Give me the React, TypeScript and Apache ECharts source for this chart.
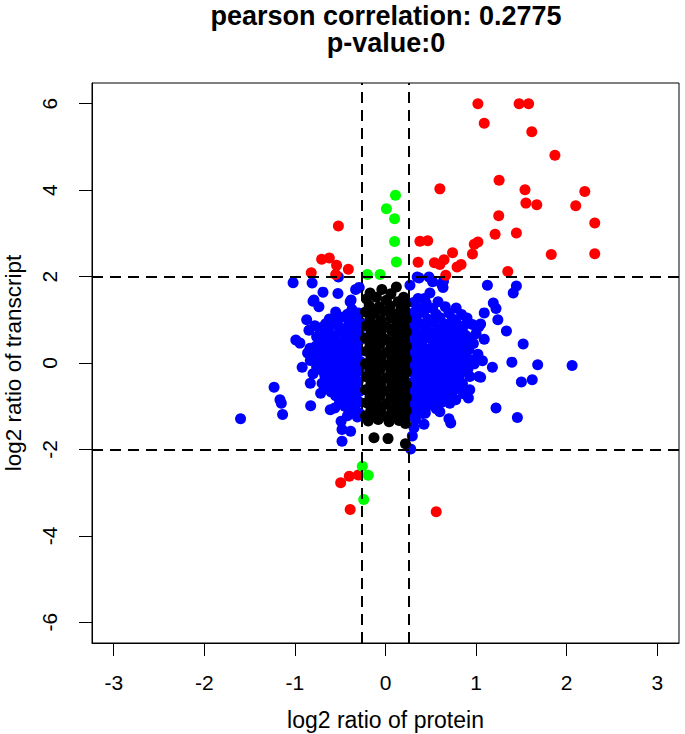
import React, { useEffect, useRef } from 'react';
import * as echarts from 'echarts';

const xTicks = [-3, -2, -1, 0, 1, 2, 3];
const yTicks = [-6, -4, -2, 0, 2, 4, 6];
const xCut = [-0.263, 0.263];
const yCut = [-2, 2];
const titleLines = ['pearson correlation: 0.2775', 'p-value:0'];

const redPoints = [
  [1.02, 6.0], [1.475, 6.0], [1.58, 6.0], [1.09, 5.55], [1.615, 5.35], [1.87, 4.81], [1.254, 4.23],
  [0.6, 4.03], [1.54, 4.01], [2.2, 3.97], [1.55, 3.7], [1.67, 3.66], [2.1, 3.64], [1.25, 3.41],
  [2.31, 3.24], [-0.52, 3.17], [1.21, 2.98], [1.445, 3.01], [0.38, 2.82], [0.466, 2.83], [1.02, 2.8],
  [0.98, 2.75], [0.74, 2.55], [0.96, 2.52], [1.83, 2.51], [2.31, 2.53], [-0.705, 2.4], [-0.62, 2.43],
  [-0.54, 2.26], [-0.41, 2.17], [-0.82, 2.09], [0.36, 2.33], [0.54, 2.32], [0.646, 2.39], [0.6, 2.28],
  [0.79, 2.22], [0.834, 2.28], [0.665, 2.03], [1.35, 2.12], [-0.55, 2.05],
  [-0.495, -2.77], [-0.4, -2.62], [-0.3, -2.59], [-0.39, -3.39], [0.56, -3.44],
];

const greenPoints = [
  [0.11, 3.88], [0.01, 3.57], [0.1, 3.34], [0.1, 2.81], [0.12, 2.34], [-0.2, 2.05], [-0.06, 2.05],
  [-0.256, -2.39], [-0.19, -2.6], [-0.24, -3.16],
];

const blueSparse = [
  [-1.02, 1.86], [-0.81, 1.85], [-0.52, 1.99], [-0.69, 1.64], [-0.525, 1.61], [-0.29, 1.75], [-0.33, 1.7],
  [-0.8, 1.43], [-0.735, 1.3], [-0.39, 1.42], [-0.37, 1.24], [-0.87, 1.0], [-0.54, 0.93], [-0.845, 0.76],
  [-0.78, 0.86], [-0.69, 0.84], [-0.99, 0.53], [-0.945, 0.46], [-0.834, 0.34], [-0.81, 0.19], [-0.77, 0.11],
  [-0.92, -0.1], [-0.8, -0.25], [-0.83, -0.47], [-0.7, -0.47], [-1.23, -0.56], [-1.165, -0.85], [-1.15, -0.93],
  [-1.136, -1.19], [-1.6, -1.29], [-0.826, -0.99], [-0.61, -1.08], [-0.716, -0.7], [-0.51, -0.93],
  [-0.4, -1.12], [-0.49, -1.35], [-0.48, -1.54], [-0.385, -1.58], [-0.48, -1.81], [-0.29, -1.16],
  [-0.79, 1.46], [-0.38, 1.46],
  [1.125, 1.8], [1.445, 1.78], [1.41, 1.62], [0.62, 1.82], [0.635, 1.75], [0.48, 1.99], [0.52, 1.88],
  [0.35, 1.99], [0.49, 1.62], [0.36, 1.49], [0.43, 1.49], [1.19, 1.39], [1.22, 1.26], [1.09, 1.16],
  [1.24, 1.0], [1.05, 0.9], [1.03, 0.84], [1.335, 0.74], [0.867, 0.87], [0.915, 0.59], [1.09, 0.55],
  [1.52, 0.44], [1.07, 0.05], [1.18, -0.1], [1.395, 0.02], [1.68, -0.04], [2.06, -0.06], [1.03, -0.31],
  [1.05, -0.33], [1.5, -0.44], [1.62, -0.39], [0.93, -0.62], [0.915, -0.81], [1.22, -1.04], [1.456, -1.26],
  [0.7, -1.29], [0.72, -1.39], [0.44, -1.16], [0.425, -1.42], [0.315, -1.5], [0.296, -1.69], [0.278, -1.99],
  [0.775, -0.85], [0.27, 1.8], [0.37, 1.97], [0.64, 1.89],
];

const blueLeftDense = [
  [-0.3, 1.16], [-0.42, 1.13], [-0.55, 1.18],
  [-0.35, 1.04], [-0.48, 1.06], [-0.62, 1.02],
  [-0.28, 0.95], [-0.4, 0.93], [-0.58, 0.97], [-0.66, 0.91],
  [-0.33, 0.83], [-0.45, 0.8], [-0.52, 0.85], [-0.63, 0.79],
  [-0.29, 0.71], [-0.38, 0.68], [-0.5, 0.72], [-0.6, 0.66], [-0.72, 0.7],
  [-0.34, 0.6], [-0.44, 0.57], [-0.56, 0.62], [-0.67, 0.58], [-0.76, 0.61],
  [-0.3, 0.48], [-0.41, 0.5], [-0.52, 0.46], [-0.63, 0.49], [-0.7, 0.45],
  [-0.36, 0.38], [-0.47, 0.36], [-0.58, 0.4], [-0.68, 0.35], [-0.77, 0.39],
  [-0.29, 0.27], [-0.4, 0.24], [-0.51, 0.28], [-0.62, 0.25], [-0.73, 0.27], [-0.86, 0.23],
  [-0.34, 0.15], [-0.45, 0.13], [-0.56, 0.17], [-0.66, 0.14], [-0.74, 0.16],
  [-0.28, 0.04], [-0.39, 0.06], [-0.5, 0.02], [-0.61, 0.05], [-0.71, 0.03], [-0.83, 0.06],
  [-0.33, -0.08], [-0.44, -0.06], [-0.55, -0.1], [-0.65, -0.07], [-0.76, -0.09],
  [-0.29, -0.18], [-0.4, -0.2], [-0.51, -0.16], [-0.6, -0.19], [-0.7, -0.17],
  [-0.35, -0.3], [-0.46, -0.28], [-0.57, -0.32], [-0.67, -0.29],
  [-0.3, -0.42], [-0.41, -0.4], [-0.52, -0.44], [-0.62, -0.41],
  [-0.34, -0.55], [-0.45, -0.53], [-0.56, -0.57], [-0.66, -0.54],
  [-0.29, -0.66], [-0.39, -0.68], [-0.5, -0.64], [-0.6, -0.67],
  [-0.33, -0.78], [-0.44, -0.8], [-0.55, -0.76],
  [-0.29, -0.9], [-0.4, -0.88], [-0.49, -0.92],
  [-0.34, -1.02], [-0.45, -1.0], [-0.56, -1.04],
  [-0.31, -1.25], [-0.42, -1.22],
];

const blueRightDense = [
  [0.31, 1.4], [0.45, 1.38], [0.58, 1.42],
  [0.35, 1.28], [0.52, 1.26], [0.66, 1.3], [0.78, 1.27],
  [0.3, 1.15], [0.42, 1.17], [0.56, 1.13], [0.7, 1.16], [0.84, 1.12],
  [0.34, 1.03], [0.47, 1.01], [0.6, 1.05], [0.74, 1.02], [0.9, 1.04],
  [0.29, 0.92], [0.4, 0.9], [0.53, 0.94], [0.65, 0.91], [0.78, 0.93], [0.96, 0.89],
  [0.33, 0.8], [0.45, 0.82], [0.58, 0.78], [0.71, 0.81], [0.83, 0.79],
  [0.3, 0.68], [0.41, 0.66], [0.52, 0.7], [0.64, 0.67], [0.76, 0.69], [0.88, 0.65], [1.0, 0.68],
  [0.35, 0.56], [0.47, 0.58], [0.59, 0.54], [0.7, 0.57], [0.82, 0.55],
  [0.29, 0.45], [0.4, 0.43], [0.53, 0.47], [0.64, 0.44], [0.76, 0.46], [0.87, 0.42], [0.97, 0.45],
  [0.34, 0.34], [0.46, 0.32], [0.57, 0.36], [0.69, 0.33], [0.8, 0.35], [0.92, 0.31],
  [0.3, 0.22], [0.41, 0.24], [0.52, 0.2], [0.63, 0.23], [0.75, 0.21], [0.86, 0.24], [1.02, 0.2],
  [0.35, 0.11], [0.47, 0.09], [0.58, 0.13], [0.7, 0.1], [0.81, 0.12], [0.93, 0.08],
  [0.29, 0.0], [0.4, 0.02], [0.52, -0.02], [0.63, 0.01], [0.74, -0.01], [0.86, 0.03], [0.98, -0.02],
  [0.34, -0.11], [0.45, -0.13], [0.57, -0.09], [0.68, -0.12], [0.8, -0.1], [0.91, -0.14],
  [0.3, -0.22], [0.41, -0.2], [0.52, -0.24], [0.64, -0.21], [0.75, -0.23], [0.87, -0.19],
  [0.35, -0.34], [0.46, -0.32], [0.58, -0.36], [0.69, -0.33], [0.81, -0.35], [0.93, -0.31],
  [0.29, -0.45], [0.4, -0.47], [0.51, -0.43], [0.62, -0.46], [0.74, -0.44], [0.85, -0.48],
  [0.34, -0.57], [0.45, -0.55], [0.56, -0.59], [0.67, -0.56], [0.79, -0.58],
  [0.3, -0.68], [0.41, -0.7], [0.52, -0.66], [0.63, -0.69], [0.74, -0.67], [0.86, -0.71],
  [0.35, -0.8], [0.46, -0.78], [0.57, -0.82], [0.68, -0.79],
  [0.29, -0.92], [0.4, -0.9], [0.51, -0.94], [0.62, -0.91], [0.71, -0.93],
  [0.34, -1.04], [0.45, -1.02], [0.56, -1.06],
  [0.3, -1.15], [0.41, -1.17], [0.6, -1.13],
  [0.33, -1.3],
];

const blackPoints = [
  [-0.17, 1.62], [-0.04, 1.7], [0.12, 1.76], [0.06, 1.6], [0.2, 1.52],
  [-0.21, 1.48], [-0.1, 1.52], [0.01, 1.45], [0.14, 1.42], [0.22, 1.36],
  [-0.18, 1.33], [-0.07, 1.3], [0.05, 1.32], [0.17, 1.25],
  [-0.22, 1.18], [-0.12, 1.15], [-0.01, 1.2], [0.1, 1.13], [0.21, 1.16],
  [-0.17, 1.02], [-0.05, 0.99], [0.06, 1.04], [0.16, 0.98], [0.23, 1.02],
  [-0.21, 0.86], [-0.1, 0.88], [0.01, 0.84], [0.12, 0.87], [0.21, 0.83],
  [-0.16, 0.72], [-0.05, 0.7], [0.07, 0.74], [0.17, 0.69], [0.23, 0.72],
  [-0.22, 0.57], [-0.11, 0.59], [0.0, 0.55], [0.11, 0.58], [0.21, 0.54],
  [-0.17, 0.42], [-0.06, 0.44], [0.06, 0.4], [0.16, 0.43], [0.23, 0.39],
  [-0.21, 0.27], [-0.1, 0.29], [0.01, 0.25], [0.12, 0.28], [0.2, 0.24],
  [-0.16, 0.12], [-0.05, 0.14], [0.07, 0.1], [0.17, 0.13], [0.23, 0.09],
  [-0.22, -0.02], [-0.11, 0.0], [0.0, -0.04], [0.11, -0.01], [0.21, -0.05],
  [-0.17, -0.17], [-0.06, -0.15], [0.06, -0.19], [0.16, -0.16], [0.23, -0.2],
  [-0.21, -0.32], [-0.1, -0.3], [0.01, -0.34], [0.12, -0.31], [0.2, -0.35],
  [-0.16, -0.47], [-0.05, -0.45], [0.07, -0.49], [0.17, -0.46], [0.23, -0.5],
  [-0.22, -0.62], [-0.11, -0.6], [0.0, -0.64], [0.11, -0.61], [0.21, -0.65],
  [-0.17, -0.77], [-0.06, -0.75], [0.06, -0.79], [0.16, -0.76], [0.23, -0.8],
  [-0.21, -0.92], [-0.1, -0.9], [0.01, -0.94], [0.12, -0.91], [0.2, -0.95],
  [-0.16, -1.07], [-0.05, -1.05], [0.07, -1.09], [0.17, -1.06], [0.23, -1.1],
  [-0.22, -1.22], [-0.11, -1.2], [0.0, -1.24], [0.11, -1.21], [0.21, -1.25],
  [-0.19, -1.34], [-0.08, -1.31], [0.04, -1.36], [0.15, -1.33], [0.22, -1.4],
  [-0.127, -1.73], [0.028, -1.75], [0.22, -1.87],
];

const FONT = 'Liberation Sans, Arial, Helvetica, sans-serif';

export default function App() {
  const ref = useRef<HTMLDivElement>(null);
  useEffect(() => {
    document.body.style.margin = '0';
    const chart = echarts.init(ref.current as HTMLDivElement, null, { renderer: 'svg' });
    const pt = (color: string, data: number[][], z: number) => ({
      type: 'scatter',
      data,
      symbol: 'circle',
      symbolSize: 11,
      itemStyle: { color, opacity: 1 },
      z,
      silent: true,
    });
    const axisLine = { show: true, onZero: false, lineStyle: { color: '#000', width: 1 } };
    chart.setOption({
      animation: false,
      backgroundColor: '#ffffff',
      textStyle: { fontFamily: FONT },
      grid: {
        left: 92, right: 6, top: 83, bottom: 91,
        containLabel: false, outerBoundsMode: 'none',
        show: true, borderColor: '#000', borderWidth: 1, backgroundColor: 'transparent',
      },
      graphic: [
        { type: 'text', x: 386, y: 16, style: { text: titleLines[0], fill: '#000', font: `bold 27px ${FONT}`, textAlign: 'center', textVerticalAlign: 'middle' } },
        { type: 'text', x: 386, y: 43, style: { text: titleLines[1], fill: '#000', font: `bold 27px ${FONT}`, textAlign: 'center', textVerticalAlign: 'middle' } },
      ],
      xAxis: {
        type: 'value', min: -3.24, max: 3.24,
        axisLine,
        splitLine: { show: false },
        axisTick: { show: true, customValues: xTicks, length: 13, lineStyle: { color: '#000', width: 1 } },
        axisLabel: { customValues: xTicks, fontSize: 21, color: '#000', margin: 29, fontFamily: FONT },
        name: 'log2 ratio of protein', nameLocation: 'middle', nameGap: 65,
        nameTextStyle: { fontSize: 23, color: '#000', fontFamily: FONT },
      },
      yAxis: {
        type: 'value', min: -6.48, max: 6.48,
        axisLine,
        splitLine: { show: false },
        axisTick: { show: true, customValues: yTicks, length: 13, lineStyle: { color: '#000', width: 1 } },
        axisLabel: { customValues: yTicks, fontSize: 21, color: '#000', margin: 32, rotate: 90, fontFamily: FONT },
        name: 'log2 ratio of transcript', nameLocation: 'middle', nameGap: 67,
        nameTextStyle: { fontSize: 22.5, color: '#000', fontFamily: FONT },
      },
      series: [
        pt('#0000ff', blueSparse, 2),
        pt('#0000ff', blueLeftDense, 2),
        pt('#0000ff', blueRightDense, 2),
        pt('#000000', blackPoints, 3),
        pt('#ff0000', redPoints, 4),
        pt('#00ff00', greenPoints, 4),
        {
          type: 'scatter', data: [], z: 10, silent: true,
          markLine: {
            silent: true, symbol: 'none', animation: false,
            label: { show: false },
            lineStyle: { type: [11, 7], color: '#000', width: 2 },
            data: [
              { xAxis: xCut[0] }, { xAxis: xCut[1] },
              { yAxis: yCut[0] }, { yAxis: yCut[1] },
            ],
          },
        },
      ],
    });
    return () => chart.dispose();
  }, []);
  return <div ref={ref} style={{ width: 685, height: 734 }} />;
}
